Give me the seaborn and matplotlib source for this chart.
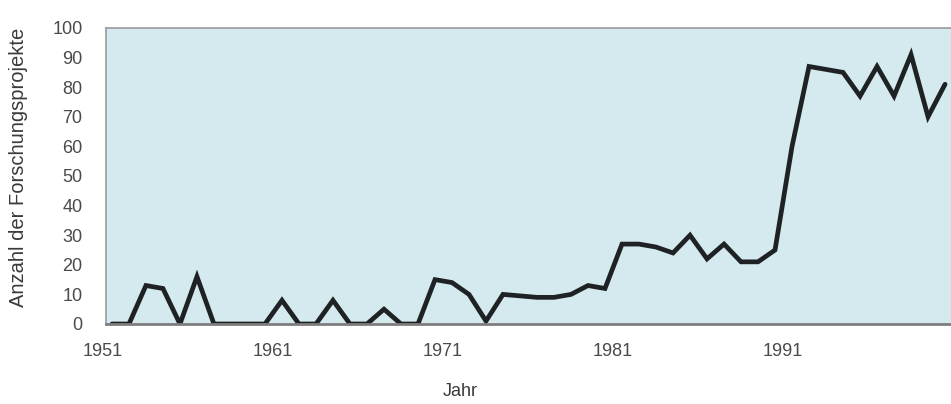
import matplotlib
matplotlib.use("Agg")
import matplotlib.pyplot as plt
import matplotlib.transforms as mtransforms
import numpy as np
import pandas as pd
import seaborn as sns

# Anzahl der Forschungsprojekte pro Jahr, 1951-2000
years = list(range(1951, 2001))
projects = [
    0, 0, 13, 12, 0, 16, 0, 0, 0, 0,
    8, 0, 0, 8, 0, 0, 5, 0, 0, 15,
    14, 10, 1, 10, 9.5, 9, 9, 10, 13, 12,
    27, 27, 26, 24, 30, 22, 27, 21, 21, 25,
    60, 87, 86, 85, 77, 87, 77, 91, 70, 81,
]
tick_years = [1951, 1961, 1971, 1981, 1991]
y_ticks = list(range(0, 101, 10))

df = pd.DataFrame({"Jahr": years, "Projekte": projects})

sns.set_theme(style="white")
plt.rcParams["font.family"] = ["Liberation Sans", "DejaVu Sans"]

fig = plt.figure(figsize=(9.51, 4.04), dpi=100)
ax = fig.add_axes([106 / 951, 1 - 324 / 404, 1 - 106 / 951, (324 - 28) / 404])
ax.set_facecolor("#d4eaee")

sns.lineplot(data=df, x="Jahr", y="Projekte", ax=ax, color="#1f2224",
             linewidth=3.4, solid_joinstyle="miter")

ax.set_xlim(1950.65, 2000.35)
ax.set_ylim(0, 100)
ax.set_xticks(tick_years)
ax.set_xticklabels([str(y) for y in tick_years])
ax.set_yticks(y_ticks)
ax.tick_params(axis="both", length=0, labelsize=13, labelcolor="#4a4a4a")
ax.tick_params(axis="x", pad=14)
ax.tick_params(axis="y", pad=17)

# year labels sit slightly left of their data points
shift = mtransforms.ScaledTranslation(-9 / 100, 0, fig.dpi_scale_trans)
for lbl in ax.get_xticklabels():
    lbl.set_transform(lbl.get_transform() + shift)

for side in ["left", "top", "right"]:
    ax.spines[side].set_color("#9a9a9a")
    ax.spines[side].set_linewidth(1.2)
ax.spines["right"].set_visible(False)
ax.spines["bottom"].set_color("#7d7d7d")
ax.spines["bottom"].set_linewidth(2.0)

ax.set_xlabel("Jahr", fontsize=13, color="#3a3a3a", va="center")
ax.set_ylabel("Anzahl der Forschungsprojekte", fontsize=14.5, color="#3a3a3a",
              va="center")
ax.xaxis.set_label_coords((460 - 106) / (951 - 106), -(391 - 324) / 296)
ax.yaxis.set_label_coords(-(106 - 19) / (951 - 106), (324 - 167) / 296)

fig.savefig("out.png", dpi=100)
